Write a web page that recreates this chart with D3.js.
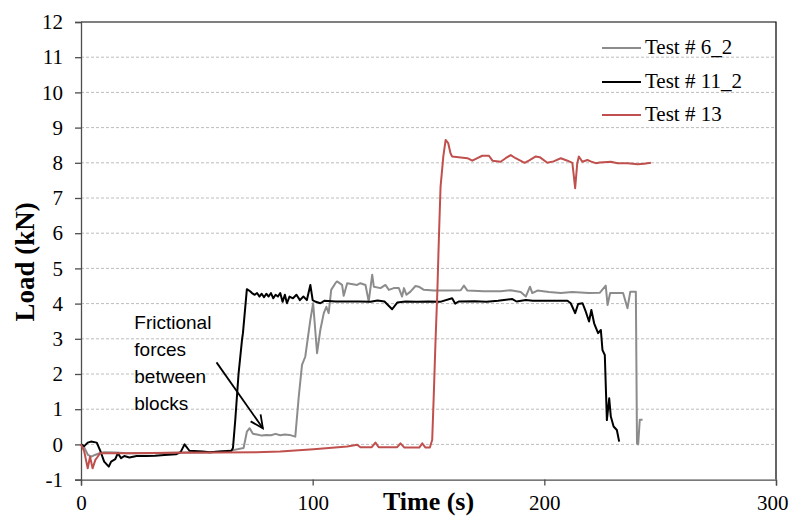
<!DOCTYPE html>
<html>
<head>
<meta charset="utf-8">
<script src="https://cdn.jsdelivr.net/npm/d3@7/dist/d3.min.js"></script>
<style>
  html, body { margin: 0; padding: 0; background: #fff; }
  svg { display: block; }
</style>
</head>
<body>
<svg id="chart" width="790" height="518"></svg>
<script>
// ---- Data (time in s, load in kN) ----
const seriesNames = ["Test # 6_2", "Test # 11_2", "Test # 13"];
const xTicks = [0, 100, 200, 300];
const yTicks = [-1, 0, 1, 2, 3, 4, 5, 6, 7, 8, 9, 10, 11, 12];

const test6_2 = [
  [0,0],[1.5,-0.1],[3,-0.3],[4.5,-0.35],[6,-0.3],[8,-0.25],[10,-0.22],[15,-0.23],[20,-0.25],[30,-0.25],
  [40,-0.24],[50,-0.22],[55,-0.23],[60,-0.2],[65.1,-0.17],[70.2,-0.1],[71.6,0.36],[72.8,0.46],[74.2,0.3],
  [76,0.28],[78,0.25],[80,0.27],[82,0.26],[84,0.3],[86,0.26],[88,0.28],[90,0.27],[92.5,0.22],[94,1.36],
  [95.4,2.26],[96.8,2.49],[97.8,2.97],[99,3.54],[100.2,4.01],[101.9,2.59],[103.3,3.25],[104.8,3.73],
  [105.9,3.91],[106.9,3.73],[108,4.39],[109.8,4.58],[110.5,4.63],[112.7,4.53],[113.4,4.22],[114.9,4.58],
  [119.2,4.53],[120.6,4.58],[122.8,4.53],[124.2,4.06],[125.7,4.82],[126.4,4.48],[129.3,4.44],[131.4,4.53],
  [132.9,4.39],[135,4.44],[137.2,4.44],[138.6,4.2],[139.4,4.44],[140.5,4.25],[142.2,4.34],[144.4,4.5],
  [145.8,4.48],[148,4.39],[152.3,4.37],[158.1,4.37],[163.9,4.38],[165.3,4.51],[166.8,4.37],[173.9,4.35],
  [181.1,4.35],[185.5,4.38],[189.8,4.33],[192,4.2],[193.8,4.48],[194.8,4.3],[197,4.37],[202,4.33],
  [207.1,4.3],[212,4.33],[219.3,4.3],[224,4.31],[226.5,4.51],[227.3,3.96],[228.4,4.3],[234,4.3],
  [235.9,3.87],[237.1,4.34],[239.5,4.34],[240,0.03],[240.5,0.0],[241.2,0.7],[242.4,0.7]
];

const test11_2 = [
  [0,0],[1.4,-0.05],[2.9,0.05],[4.3,0.08],[6.8,0.05],[8.2,-0.16],[10,-0.49],[12,-0.63],[13,-0.49],
  [14.8,-0.42],[15.9,-0.25],[17.3,-0.39],[18.7,-0.33],[20.9,-0.37],[24,-0.33],[28,-0.33],[32,-0.32],
  [36,-0.3],[41,-0.28],[43,-0.22],[44.7,0.0],[46.8,-0.18],[52.6,-0.2],[55.5,-0.22],[60,-0.2],[64.9,-0.18],
  [65.6,-0.1],[66.6,0.7],[68,2.0],[69.5,2.97],[69.9,3.16],[71.6,4.41],[73,4.35],[73.8,4.3],[75,4.25],
  [76,4.3],[77,4.2],[78,4.28],[79,4.18],[80,4.28],[81,4.2],[82,4.3],[83,4.15],[84,4.25],[85,4.2],
  [86,4.3],[87,4.05],[88,4.25],[88.9,4.01],[90,4.2],[91.5,4.15],[93,4.25],[94.5,4.1],[96,4.2],[97.5,4.1],
  [99,4.53],[100,4.1],[101,4.06],[103.3,4.01],[105,4.08],[110,4.06],[120,4.06],[125,4.05],[128,4.09],
  [131,4.06],[134.3,3.84],[136.5,4.03],[140,4.06],[145,4.05],[150,4.06],[155,4.05],[160.2,4.15],
  [161.5,4.0],[163,4.06],[170,4.07],[175,4.05],[180,4.08],[186.2,4.13],[188,4.06],[192,4.1],[195,4.08],
  [200,4.08],[205,4.08],[210,4.08],[211.4,4.01],[213.3,3.73],[214.6,3.99],[216.5,4.01],[217.9,3.77],
  [219.3,3.49],[220.3,3.82],[221.5,3.44],[223.2,3.16],[224.4,3.25],[225.1,2.68],[226.1,2.54],[227,0.69],
  [228,1.31],[228.7,0.79],[229.9,0.51],[231.3,0.41],[232.3,0.08]
];

const test13 = [
  [0,0],[1.4,-0.2],[2.9,-0.68],[3.9,-0.35],[5,-0.68],[6.2,-0.44],[7.2,-0.35],[8.2,-0.25],[9.4,-0.25],
  [20,-0.25],[40,-0.24],[60,-0.23],[75.7,-0.22],[86,-0.2],[100.4,-0.14],[114.9,-0.06],[119.2,-0.01],
  [120.6,-0.08],[125.5,-0.08],[127.1,0.05],[128.5,-0.08],[136.5,-0.08],[137.9,0.03],[139.6,-0.09],
  [146,-0.09],[147.3,0.03],[148.7,-0.09],[150.6,-0.09],[151.6,0.13],[152.3,1.45],[153,2.88],[153.8,4.3],
  [154.5,5.9],[155.2,7.32],[156.4,8.18],[157.4,8.65],[158.5,8.56],[159.5,8.27],[160.2,8.18],[163.9,8.15],
  [166.8,8.13],[168.9,8.06],[171.1,8.13],[173.2,8.2],[176.1,8.2],[177.6,8.06],[181.1,8.03],[183.3,8.13],
  [185.5,8.22],[187.6,8.13],[191.5,8.0],[193.5,8.07],[196.3,8.18],[198,8.16],[201.3,8.0],[204,8.04],
  [207.1,8.13],[210,8.06],[212.1,8.0],[213.3,7.28],[214.2,7.98],[214.9,8.18],[216.4,8.03],[218.6,8.08],
  [220,8.04],[222.2,7.99],[224,8.01],[228.7,8.03],[231.6,7.99],[236,7.99],[240.2,7.96],[243,7.97],[246,8.0]
];

const annotationLines = ["Frictional", "forces", "between", "blocks"];

// ---- Layout ----
const W = 790, H = 518;
const plot = { left: 81, right: 776, top: 22, bottom: 479.6 };
const colors = ["#8c8c8c", "#000000", "#c0504d"];
const seriesData = [test6_2, test11_2, test13];

const svg = d3.select("#chart");
const x = d3.scaleLinear().domain([0, 300]).range([plot.left, plot.right]);
const y = d3.scaleLinear().domain([-1, 12]).range([plot.bottom, plot.top]);

// Gridlines
svg.append("g")
  .selectAll("line")
  .data(yTicks.filter(d => d !== -1 && d !== 12))
  .join("line")
  .attr("x1", plot.left).attr("x2", plot.right)
  .attr("y1", d => y(d)).attr("y2", d => y(d))
  .attr("stroke", "#bdbdbd").attr("stroke-width", 1)
  .attr("stroke-dasharray", "3,2");

// Plot border (top, right)
svg.append("path")
  .attr("d", `M${plot.left},${plot.top}H${plot.right}V${plot.bottom}`)
  .attr("fill", "none").attr("stroke", "#000").attr("stroke-width", 1.2);

// Axes
const xAxis = svg.append("g")
  .attr("transform", `translate(0,${plot.bottom})`)
  .call(d3.axisBottom(x).tickValues(xTicks).tickSize(6).tickPadding(9).tickFormat(d3.format("d")));
const yAxis = svg.append("g")
  .attr("transform", `translate(${plot.left},0)`)
  .call(d3.axisLeft(y).tickValues(yTicks).tickSize(6).tickPadding(12).tickFormat(d => d < 0 ? "-" + Math.abs(d) : String(d)));

[xAxis, yAxis].forEach(g => {
  g.select(".domain").attr("stroke", "#4d4d4d").attr("stroke-width", 1.3);
  g.selectAll(".tick line").attr("stroke", "#4d4d4d").attr("stroke-width", 1.3);
  g.selectAll(".tick text")
    .attr("font-family", "'Liberation Serif', 'Times New Roman', serif")
    .attr("font-size", 21).attr("fill", "#000");
});
// keep the last x label inside the window
xAxis.selectAll(".tick text").filter(d => d === 300).attr("text-anchor", "end").attr("dx", 12);

// Series lines
const line = d3.line().x(d => x(d[0])).y(d => y(d[1]));
svg.append("g")
  .selectAll("path")
  .data(seriesData)
  .join("path")
  .attr("d", d => line(d))
  .attr("fill", "none")
  .attr("stroke", (d, i) => colors[i])
  .attr("stroke-width", 2)
  .attr("stroke-linejoin", "round");

// Legend
const legendItems = [
  { name: seriesNames[0], color: colors[0], cy: 46 },
  { name: seriesNames[1], color: colors[1], cy: 80 },
  { name: seriesNames[2], color: colors[2], cy: 113 }
];
const lg = svg.append("g");
legendItems.forEach(it => {
  lg.append("line").attr("x1", 602).attr("x2", 641).attr("y1", it.cy + 2).attr("y2", it.cy + 2)
    .attr("stroke", it.color).attr("stroke-width", 2);
  lg.append("text").attr("x", 645).attr("y", it.cy + 8)
    .attr("font-family", "'Liberation Serif', 'Times New Roman', serif")
    .attr("font-size", 21).attr("fill", "#000").text(it.name);
});

// Axis titles
svg.append("text")
  .attr("x", (plot.left + plot.right) / 2).attr("y", 510)
  .attr("text-anchor", "middle")
  .attr("font-family", "'Liberation Serif', 'Times New Roman', serif")
  .attr("font-weight", "bold").attr("font-size", 26).attr("fill", "#000")
  .text("Time (s)");
svg.append("text")
  .attr("transform", `translate(34,${(plot.top + plot.bottom) / 2 + 11}) rotate(-90)`)
  .attr("text-anchor", "middle")
  .attr("font-family", "'Liberation Serif', 'Times New Roman', serif")
  .attr("font-weight", "bold").attr("font-size", 27).attr("fill", "#000")
  .text("Load (kN)");

// Annotation
const ann = svg.append("text")
  .attr("font-family", "'Liberation Sans', Arial, sans-serif")
  .attr("font-size", 19).attr("fill", "#000");
annotationLines.forEach((t, i) => {
  ann.append("tspan").attr("x", x(23)).attr("y", y(3.27) + i * 27).text(t);
});

// Arrow
const a0 = [x(58.5), y(2.33)], a1 = [x(78.5), y(0.46)];
svg.append("line")
  .attr("x1", a0[0]).attr("y1", a0[1]).attr("x2", a1[0]).attr("y2", a1[1])
  .attr("stroke", "#000").attr("stroke-width", 1.8);
const ang = Math.atan2(a1[1] - a0[1], a1[0] - a0[0]);
const hl = 14, ha = 0.45;
svg.append("path")
  .attr("d", `M${a1[0] - hl * Math.cos(ang - ha)},${a1[1] - hl * Math.sin(ang - ha)}L${a1[0]},${a1[1]}L${a1[0] - hl * Math.cos(ang + ha)},${a1[1] - hl * Math.sin(ang + ha)}`)
  .attr("fill", "none").attr("stroke", "#000").attr("stroke-width", 1.8);
</script>
</body>
</html>
